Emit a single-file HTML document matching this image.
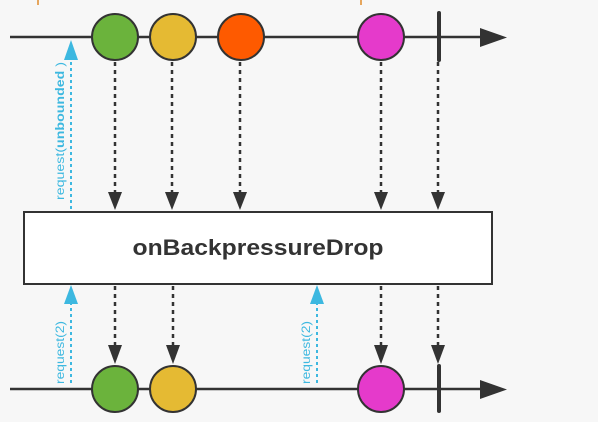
<!DOCTYPE html>
<html><head><style>body{margin:0;background:#f7f7f7}svg{display:block}</style></head><body>
<svg width="598" height="422" viewBox="0 0 598 422" xmlns="http://www.w3.org/2000/svg" font-family="Liberation Sans, sans-serif">
<rect width="598" height="422" fill="#f7f7f7"/>
<line x1="38" y1="0" x2="38" y2="5" stroke="#e08a2a" stroke-width="1.5"/>
<line x1="361" y1="0" x2="361" y2="5" stroke="#e08a2a" stroke-width="1.5"/>
<g stroke="#333" stroke-width="2.5">
<line x1="10" y1="37" x2="485" y2="37"/>
<line x1="10" y1="389" x2="485" y2="389"/>
</g>
<polygon points="480,28 507,37.5 480,47" fill="#333"/>
<polygon points="480,380 507,389.5 480,399" fill="#333"/>
<line x1="439" y1="13" x2="439" y2="60" stroke="#333" stroke-width="4" stroke-linecap="round"/>
<line x1="439" y1="366" x2="439" y2="411" stroke="#333" stroke-width="4" stroke-linecap="round"/>
<g stroke="#333" stroke-width="2.5" stroke-dasharray="4,4">
<line x1="115" y1="62" x2="115" y2="195"/><line x1="172" y1="62" x2="172" y2="195"/><line x1="240" y1="62" x2="240" y2="195"/><line x1="381" y1="62" x2="381" y2="195"/><line x1="438" y1="62" x2="438" y2="195"/>
<line x1="115" y1="286" x2="115" y2="347"/><line x1="173" y1="286" x2="173" y2="347"/><line x1="381" y1="286" x2="381" y2="347"/><line x1="438" y1="286" x2="438" y2="347"/>
</g>
<g fill="#333">
<polygon points="108,192 122,192 115,210"/><polygon points="165,192 179,192 172,210"/><polygon points="233,192 247,192 240,210"/><polygon points="374,192 388,192 381,210"/><polygon points="431,192 445,192 438,210"/>
<polygon points="108,345 122,345 115,364"/><polygon points="166,345 180,345 173,364"/><polygon points="374,345 388,345 381,364"/><polygon points="431,345 445,345 438,364"/>
</g>
<g stroke="#3db8e0" stroke-width="2" stroke-dasharray="3,3">
<line x1="71" y1="56" x2="71" y2="210"/><line x1="71" y1="302" x2="71" y2="386"/><line x1="317" y1="302" x2="317" y2="386"/>
</g>
<g fill="#3db8e0">
<polygon points="64,60 78,60 71,40"/><polygon points="64,304 78,304 71,285"/><polygon points="310,304 324,304 317,285"/>
</g>
<g fill="#3db8e0" font-size="12">
<text transform="translate(64,200) rotate(-90)" textLength="138" lengthAdjust="spacingAndGlyphs">request(<tspan font-weight="bold">unbounded</tspan> )</text>
<text transform="translate(64,384) rotate(-90)" textLength="63" lengthAdjust="spacingAndGlyphs">request(2)</text>
<text transform="translate(310,384) rotate(-90)" textLength="63" lengthAdjust="spacingAndGlyphs">request(2)</text>
</g>
<g stroke="#333" stroke-width="2">
<circle cx="115" cy="37" r="23" fill="#6bb33c"/><circle cx="173" cy="37" r="23" fill="#e5ba33"/><circle cx="241" cy="37" r="23" fill="#fe5a00"/><circle cx="381" cy="37" r="23" fill="#e53acb"/>
<ellipse cx="115" cy="389" rx="23" ry="23" fill="#6bb33c"/><ellipse cx="173" cy="389" rx="23" ry="23" fill="#e5ba33"/><ellipse cx="381" cy="389" rx="23" ry="23" fill="#e53acb"/>
</g>
<rect x="24" y="212" width="468" height="72" fill="#fff" stroke="#333" stroke-width="2"/>
<text x="258" y="255" text-anchor="middle" font-size="22" font-weight="bold" fill="#333" textLength="251" lengthAdjust="spacingAndGlyphs">onBackpressureDrop</text>
</svg>
</body></html>
